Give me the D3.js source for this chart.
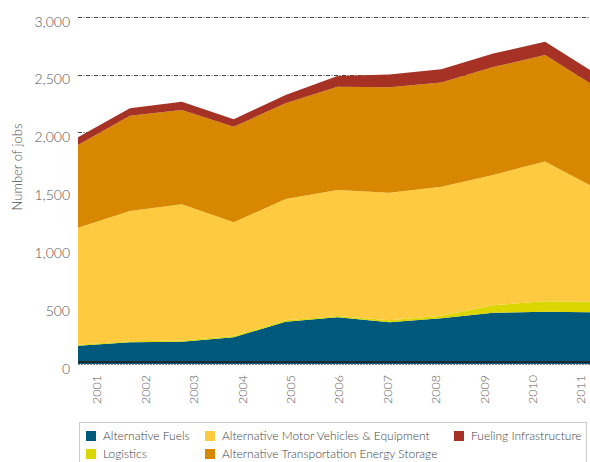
<!DOCTYPE html>
<html>
<head>
<meta charset="utf-8">
<script src="https://cdn.jsdelivr.net/npm/d3@7"></script>
<style>
  body { margin: 0; background: #fff; }
  svg { display: block; font-family: Lato, "Open Sans", sans-serif; font-weight: 300; }
</style>
</head>
<body>
<svg id="chart" width="590" height="462"></svg>
<script>
// data
let years = ["2001", "2002", "2003", "2004", "2005", "2006", "2007", "2008", "2009", "2010", "2011"];
let altFuels    = [158, 187, 193, 231, 365, 403, 360, 395, 443, 452, 447];
let logistics   = [9, 9, 9, 10, 12, 12, 17, 22, 65, 90, 90];
let altVehicles = [1010, 1126, 1177, 983, 1048, 1088, 1103, 1114, 1125, 1208, 976];
let energyStore = [715, 823, 815, 826, 827, 892, 910, 901, 932, 919, 873];
let fueling     = [66, 64, 72, 64, 72, 93, 111, 114, 117, 115, 115];
let yTicks = [0, 500, 1000, 1500, 2000, 2500, 3000];
let gridTicks = [2000, 2500, 3000];

let seriesNames = {
  af: "Alternative Fuels",
  lg: "Logistics",
  amv: "Alternative Motor Vehicles & Equipment",
  ates: "Alternative Transportation Energy Storage",
  fi: "Fueling Infrastructure"
};
let colors = { af: "#00587b", lg: "#dbd600", amv: "#fdca40", ates: "#d78700", fi: "#a53224" };
let stackKeys = ["af", "lg", "amv", "ates", "fi"];
let legendOrder = ["af", "amv", "fi", "lg", "ates"];

let rows = years.map(function(yr, i) {
  return { year: yr, af: altFuels[i], lg: logistics[i], amv: altVehicles[i], ates: energyStore[i], fi: fueling[i] };
});

let svg = d3.select("#chart");

let x = d3.scalePoint().domain(years).range([78, 597]);
let xLabel = d3.scalePoint().domain(years).range([97, 581]);
let y = d3.scaleLinear().domain([0, 3000]).range([364, 16.7]);

// gridlines (behind the areas)
svg.append("g").selectAll("line")
  .data(gridTicks)
  .enter().append("line")
  .attr("x1", 78).attr("x2", 590)
  .attr("y1", function(d) { return Math.round(y(d)) + 0.5; })
  .attr("y2", function(d) { return Math.round(y(d)) + 0.5; })
  .attr("stroke", "#444")
  .attr("stroke-width", 1)
  .attr("stroke-dasharray", "4,1.5,1,1.5");

let stacked = d3.stack().keys(stackKeys)(rows);

let area = d3.area()
  .x(function(d) { return x(d.data.year); })
  .y0(function(d) { return y(d[0]); })
  .y1(function(d) { return y(d[1]); });

svg.append("g").selectAll("path")
  .data(stacked)
  .enter().append("path")
  .attr("fill", function(d) { return colors[d.key]; })
  .attr("d", area);

// baseline
svg.append("line")
  .attr("x1", 78).attr("x2", 590)
  .attr("y1", y(0) - 2).attr("y2", y(0) - 2)
  .attr("stroke", "#1e2a30").attr("stroke-width", 2);
svg.append("line")
  .attr("x1", 78).attr("x2", 590)
  .attr("y1", y(0) + 0.5).attr("y2", y(0) + 0.5)
  .attr("stroke", "#888").attr("stroke-width", 1)
  .attr("stroke-dasharray", "2,1");

// y tick labels
svg.append("g").selectAll("text")
  .data(yTicks)
  .enter().append("text")
  .attr("x", 70)
  .attr("y", function(d) { return y(d) + 5; })
  .attr("dy", "0.35em")
  .attr("text-anchor", "end")
  .attr("fill", "#555")
  .style("font-size", "14px")
  .text(function(d) { return d3.format(",")(d); });

svg.append("text")
  .attr("transform", "translate(17,167) rotate(-90)")
  .attr("dy", "0.35em")
  .attr("text-anchor", "middle")
  .attr("fill", "#555")
  .style("font-size", "13px")
  .text("Number of jobs");

// x tick labels
svg.append("g").selectAll("text")
  .data(years)
  .enter().append("text")
  .attr("transform", function(d) { return "translate(" + xLabel(d) + ",375) rotate(-90)"; })
  .attr("dy", "0.35em")
  .attr("text-anchor", "end")
  .attr("fill", "#555")
  .style("font-size", "12.5px")
  .text(function(d) { return d; });

// legend
let legend = svg.append("g");
legend.append("rect")
  .attr("x", 79.5).attr("y", 422.5)
  .attr("width", 507).attr("height", 50)
  .attr("fill", "none").attr("stroke", "#ccc");

let colX = [86, 205, 454];
let items = legend.selectAll("g.item")
  .data(legendOrder)
  .enter().append("g")
  .attr("class", "item")
  .attr("transform", function(d, i) {
    return "translate(" + colX[i % 3] + "," + (431 + Math.floor(i / 3) * 18) + ")";
  });
items.append("rect")
  .attr("width", 10).attr("height", 10)
  .attr("fill", function(d) { return colors[d]; });
items.append("text")
  .attr("x", 17).attr("y", 5)
  .attr("dy", "0.35em")
  .attr("fill", "#444")
  .style("font-size", "12px")
  .text(function(d) { return seriesNames[d]; });
</script>
</body>
</html>
